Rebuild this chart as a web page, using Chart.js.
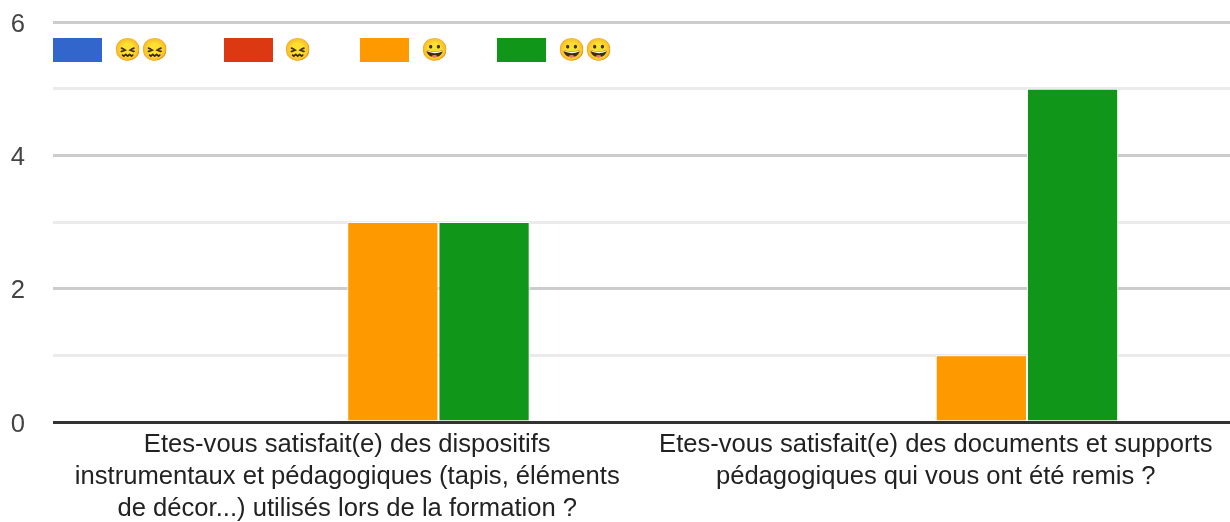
<!DOCTYPE html>
<html>
<head>
  <title>Satisfaction</title>
  <script src="https://cdn.jsdelivr.net/npm/chart.js"></script>
  <style>
    body { margin: 0; background: #fff; }
    #chart-box { position: relative; width: 1230px; height: 522px; }
    #legend { position: absolute; left: 53px; top: 38px; display: flex; gap: 48.2px; pointer-events: none; }
    #legend div { display: flex; align-items: center; height: 24px; gap: 12px; }
    #legend div:first-child { margin-right: 6.8px; }
    #legend i { display: block; width: 49px; height: 24px; }
    #legend span { font: 22px 'Noto Color Emoji', 'DejaVu Sans', sans-serif; line-height: 24px; }
  </style>
</head>
<body>
  <div id="chart-box"><canvas id="chart"></canvas><div id="legend"></div></div>
  <script>
    var categories = [
      ["Etes-vous satisfait(e) des dispositifs", "instrumentaux et pédagogiques (tapis, éléments", "de décor...) utilisés lors de la formation ?"],
      ["Etes-vous satisfait(e) des documents et supports", "pédagogiques qui vous ont été remis ?"]
    ];
    var seriesNames = ["😖😖", "😖", "😀", "😀😀"];
    var seriesColors = ["#3366cc", "#dc3912", "#ff9900", "#109618"];
    var veryUnhappy = [0, 0];
    var unhappy = [0, 0];
    var happy = [3, 1];
    var veryHappy = [3, 5];
    var values = [veryUnhappy, unhappy, happy, veryHappy];
    var fontFamily = "'Liberation Sans', Arial, sans-serif";

    new Chart(document.getElementById("chart"), {
      type: "bar",
      data: {
        labels: categories,
        datasets: values.map(function (v, i) {
          return {
            label: seriesNames[i],
            data: v,
            backgroundColor: seriesColors[i],
            borderColor: "#ffffff",
            borderWidth: 1,
            barPercentage: 1,
            categoryPercentage: 0.62
          };
        })
      },
      options: {
        responsive: true,
        maintainAspectRatio: false,
        animation: false,
        layout: { padding: { top: 22, right: 0, bottom: 0, left: 0 } },
        scales: {
          x: {
            grid: { display: false },
            border: { display: false },
            afterFit: function (scale) { scale.height = 100; },
            ticks: {
              autoSkip: false, maxRotation: 0, minRotation: 0, padding: -1,
              color: "#222222",
              font: { family: fontFamily, size: 25.6, lineHeight: 1.25 }
            }
          },
          y: {
            min: 0, max: 6,
            afterFit: function (scale) { scale.width = 53; },
            border: { display: false },
            grid: {
              lineWidth: 3,
              tickLength: 28,
              tickColor: "transparent",
              color: function (ctx) {
                var v = ctx.tick.value;
                if (v === 0) return "#333333";
                return v % 2 === 0 ? "#cccccc" : "#ebebeb";
              }
            },
            ticks: {
              stepSize: 1,
              padding: 0,
              labelOffset: 2.5,
              color: "#444444",
              font: { family: fontFamily, size: 25.6 },
              callback: function (v) { return v % 2 === 0 ? v : ""; }
            }
          }
        },
        plugins: {
          tooltip: { enabled: false },
          legend: { display: false }
        }
      }
    });

    // legend sits over the plot, same as the original
    var legendBox = document.getElementById("legend");
    seriesNames.forEach(function (name, i) {
      var item = document.createElement("div");
      var swatch = document.createElement("i");
      swatch.style.background = seriesColors[i];
      var text = document.createElement("span");
      text.textContent = name;
      item.appendChild(swatch);
      item.appendChild(text);
      legendBox.appendChild(item);
    });
  </script>
</body>
</html>
